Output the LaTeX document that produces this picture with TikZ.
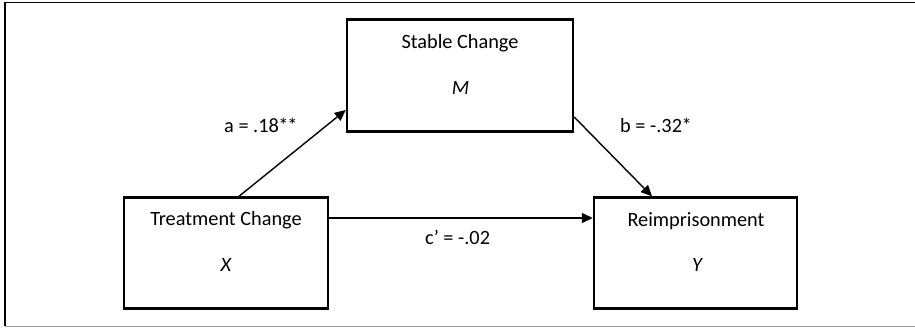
\documentclass[tikz,border=0pt]{standalone}
\usepackage{fontspec}
\setmainfont{Carlito}
\usetikzlibrary{arrows.meta}
% one asterisk on a fixed advance width
\newcommand{\sigstar}{\makebox[9pt]{*}}
\begin{document}
\begin{tikzpicture}[x=1pt,y=-1pt,
  font=\fontsize{20.3}{24}\selectfont,
  varbox/.style={draw,line width=2.4pt,rectangle,inner sep=0pt},
  path/.style={line width=1.4pt,-{Triangle[length=11pt,width=10pt]}},
  lbl/.style={anchor=base west,inner sep=0pt},
  txt/.style={anchor=base,inner sep=0pt}]
  \useasboundingbox (0,0) rectangle (915,327);
  % outer frame
  \draw[line width=1.4pt] (5,326) -- (5,2.5) -- (915,2.5);
  \draw[line width=1pt,black!40] (5,326) -- (915,326);

  % variable boxes
  \node[varbox,minimum width=226pt,minimum height=112pt] (mbox) at (460,75.5) {};
  \node[varbox,minimum width=204pt,minimum height=111pt] (xbox) at (226,253) {};
  \node[varbox,minimum width=203pt,minimum height=111pt] (ybox) at (695.5,253) {};

  % box texts
  \node[txt] (mname) at (460,48.3) {Stable Change};
  \node[txt] (mvar) at (460.5,94) {\itshape M};
  \node[txt] (xname) at (226,225) {Treatment Change};
  \node[txt] (xvar) at (226,271.7) {\itshape X};
  \node[txt] (yname) at (696,226) {Reimprisonment};
  \node[txt] (yvar) at (697,271.7) {\itshape Y};

  % paths
  \draw[path] ([xshift=13pt]xbox.north) -- ([yshift=-34.5pt]mbox.west);
  \draw[path] ([yshift=-41.5pt]mbox.east) -- ([xshift=-43.5pt]ybox.north);
  \draw[path] ([yshift=35pt]xbox.east) -- ([yshift=35pt]ybox.west);

  % coefficients
  \node[lbl] (alab) at (224,132) {a = .18\sigstar\sigstar};
  \node[lbl] (blab) at (620,132) {b = -.32\sigstar};
  \node[lbl] (clab) at (425,244) {c’ = -.02};
\end{tikzpicture}
\end{document}
